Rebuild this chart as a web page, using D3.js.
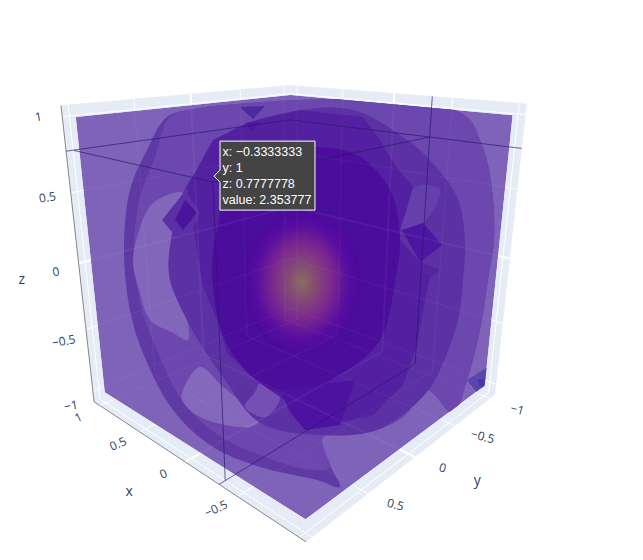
<!DOCTYPE html>
<html><head><meta charset="utf-8">
<script src="https://cdn.jsdelivr.net/npm/d3@7"></script>
<style>html,body{margin:0;padding:0;background:#fff}svg{display:block}</style></head>
<body><svg id="c" width="643" height="560"></svg>
<script>
// ---- data ----
const tickValues = [-1, -0.5, 0, 0.5, 1];
const xTickLabels = [0.5, 0, -0.5, 1];
const yTickLabels = [-1, -0.5, 0, 0.5];
const zTickLabels = [-1, -0.5, 0, 0.5, 1];
const hoverPoint = {x: -0.3333333, y: 1, z: 0.7777778, value: 2.353777};
const hoverLines = ["x: \u22120.3333333", "y: 1", "z: 0.7777778", "value: 2.353777"];

// isosurface silhouettes, in units of the projection plane (u right, v up)
const ringU = [-1.33,-1.0,-0.5,0,1.0,1.5,1.7,1.8,1.88,1.93,1.94,1.88,1.8,1.67,1.53,1.27,1.03,0.7,0.23,0.3,0.4,0.17,-0.4,-0.87,-1.27,-1.57,-1.7,-1.76,-1.7,-1.53];
const ringV = [1.65,1.74,1.79,1.82,1.82,1.74,1.62,1.42,1.17,0.82,0.42,0.02,-0.48,-0.98,-1.31,-1.08,-1.35,-1.5,-1.55,-1.83,-2.05,-1.98,-1.85,-1.65,-1.28,-0.71,-0.28,0.32,0.92,1.32];
const shellU = [-1.3,-1.0,-0.5,0,1.0,1.5,1.7,1.8,1.88,1.93,1.94,1.88,1.8,1.67,1.53,1.27,1.03,0.7,0.23,0.25,0.3,0.1,-0.4,-0.82,-1.17,-1.43,-1.58,-1.66,-1.6,-1.45];
const shellV = [1.65,1.74,1.79,1.82,1.82,1.74,1.62,1.42,1.17,0.82,0.42,0.02,-0.48,-0.98,-1.31,-1.08,-1.35,-1.5,-1.55,-1.7,-1.85,-1.88,-1.73,-1.53,-1.2,-0.68,-0.28,0.3,0.85,1.25];
const crescentU = [-1.17,-1.47,-1.63,-1.67,-1.6,-1.5,-1.27,-1.12,-1.13,-1.3,-1.3,-1.2];
const crescentV = [0.89,0.79,0.45,0.19,-0.11,-0.38,-0.51,-0.58,-0.38,0.02,0.35,0.6];
const lobeLeftU = [-1.17,-1.0,-0.77,-0.4,-0.5,-1.0,-1.18];
const lobeLeftV = [-1.08,-0.85,-1.05,-1.38,-1.45,-1.35,-1.18];
const midU = [-0.67,-1.03,-1.17,-1.3,-1.3,-1.13,-1.0,-0.77,-0.4,0.2,0.7,1.0,1.3,1.43,1.58,1.63,1.65,1.57,1.27,1.03,0.6,0.2];
const midV = [1.52,1.12,0.89,0.35,0.02,-0.38,-0.61,-0.95,-1.41,-1.53,-1.5,-1.35,-1.06,-0.81,-0.38,0.02,0.42,0.85,1.25,1.45,1.7,1.74];
const lobeMidU = [-0.4,-0.2,-0.35,-0.55,-0.45];
const lobeMidV = [-1.01,-1.15,-1.35,-1.25,-1.1];
const darkU = [-1.13,-0.87,-0.53,0,0.63,0.78,0.95,1.13,1.05,0.97,1.2,1.4,1.3,1.25,1.17,1.03,0.73,0.2,-0.2,-0.4,-0.73,-0.83,-0.97,-1.03];
const darkV = [0.95,1.42,1.59,1.72,1.65,1.45,1.17,0.95,0.67,0.45,0.2,0.12,0.05,-0.18,-0.63,-1.03,-1.33,-1.45,-1.15,-1.01,-0.71,-0.38,-0.05,0.32];
const deepU = [-0.38,-0.7,-0.83,-0.88,-0.75,-0.4,0,0.4,0.8,0.95,1.0,0.9,0.6,0.2];
const deepV = [1.22,0.97,0.52,0.12,-0.58,-1.01,-1.13,-0.93,-0.58,0,0.45,0.92,1.25,1.35];
const diamondOuterU = [-1.13,-1.0,-1.15,-1.28,-1.38,-1.18];
const diamondOuterV = [0.9,0.69,0.39,0.5,0.62,0.87];
const diamondInnerU = [-1.15,-1.03,-1.17,-1.25];
const diamondInnerV = [0.82,0.69,0.52,0.62];
const topWedgeU = [-0.6,-0.35,-0.47];
const topWedgeV = [1.75,1.76,1.63];
const topWedge2U = [-0.55,-0.4,-0.48];
const topWedge2V = [1.59,1.6,1.5];
const rightLobeU = [1.15,1.4,1.23,1.02];
const rightLobeV = [0.95,0.92,0.59,0.52];
const rightDiamondU = [1.23,1.42,1.2,1.02];
const rightDiamondV = [0.59,0.37,0.2,0.52];
const rightFoldU = [1.2,1.4,1.3,1.18];
const rightFoldV = [0.2,0.12,0.05,0.12];
const bottomPentU = [-0.2,0.55,0.4,0.05,-0.1];
const bottomPentV = [-1.08,-0.98,-1.43,-1.48,-1.3];
const cornerU = [1.67,1.88,1.87,1.79];
const cornerV = [-0.98,-0.85,-1.06,-1.13];
const cornerInnerU = [1.77,1.85,1.83];
const cornerInnerV = [-0.98,-0.96,-1.08];
const coreOffsets = [0, 0.2, 0.5, 0.8, 1];
const coreColors = ["#86705e", "#855070", "#7c2a8e", "#560ca0", "#4b0a9c"];

const shapes = [
  {name:"ring", u:ringU, v:ringV, color:"#5f3aa5", smooth:true},
  {name:"shell", u:shellU, v:shellV, color:"#6b47ae", smooth:true},
  {name:"crescent", u:crescentU, v:crescentV, color:"#8266b9", smooth:true},
  {name:"lobeLeft", u:lobeLeftU, v:lobeLeftV, color:"#8468bc", smooth:true},
  {name:"mid", u:midU, v:midV, color:"#5c31a4", smooth:true},
  {name:"lobeMid", u:lobeMidU, v:lobeMidV, color:"#7450b2", smooth:true},
  {name:"rightLobe", u:rightLobeU, v:rightLobeV, color:"#6540ac", smooth:true},
  {name:"dark", u:darkU, v:darkV, color:"#5220a0", smooth:false},
  {name:"deep", u:deepU, v:deepV, color:"#4b0d9c", smooth:true},
  {name:"diamondOuter", u:diamondOuterU, v:diamondOuterV, color:"#5a30a4"},
  {name:"diamondInner", u:diamondInnerU, v:diamondInnerV, color:"#4a149c"},
  {name:"topWedge", u:topWedgeU, v:topWedgeV, color:"#4b2a9e"},
  {name:"topWedge2", u:topWedge2U, v:topWedge2V, color:"#4b1a9c"},
  {name:"rightDiamond", u:rightDiamondU, v:rightDiamondV, color:"#4c16a0"},
  {name:"rightFold", u:rightFoldU, v:rightFoldV, color:"#5424a2"},
  {name:"bottomPent", u:bottomPentU, v:bottomPentV, color:"#4c12a0"},
  {name:"corner", u:cornerU, v:cornerV, color:"#5a44ae"},
  {name:"cornerInner", u:cornerInnerU, v:cornerInnerV, color:"#4a35a4"}
];

// ---- camera ----
const cam = {phi: 47*Math.PI/180, el: 19.2*Math.PI/180, D: 4.73, F: 680, cx: 296.5, cy: 262};
const axisExtent = 1.07;
const xMin=-1.05, xMax=1.08, yMin=-1.08, yMax=1.05, zMin=-1.09, zMax=1.07;
const sinEl = Math.sin(cam.el), cosEl = Math.cos(cam.el), sinPhi = Math.sin(cam.phi), cosPhi = Math.cos(cam.phi);
const axisScale = d3.scaleLinear().domain([-1,1]).range([-1,1]);
function project(x,y,z){
  const X=axisScale(x), Y=axisScale(y), Z=axisScale(z);
  const pr = -sinPhi*X - cosPhi*Y;
  const pu = sinEl*cosPhi*X - sinEl*sinPhi*Y + cosEl*Z;
  const pe = -cosEl*cosPhi*X + cosEl*sinPhi*Y + sinEl*Z;
  const k = cam.F/(cam.D-pe);
  return [cam.cx + k*pr, cam.cy - k*pu];
}
const a = axisExtent;
const svg = d3.select("#c");
const defs = svg.append("defs");
const line = d3.line();
const smoothLine = d3.line().curve(d3.curveCatmullRomClosed.alpha(0.5));
const poly = pts => line(pts)+"Z";

// ---- walls ----
const walls = [
  [[xMax,yMax,zMax],[xMax,yMin,zMax],[xMax,yMin,zMin],[xMax,yMax,zMin]],
  [[xMax,yMin,zMax],[xMin,yMin,zMax],[xMin,yMin,zMin],[xMax,yMin,zMin]],
  [[xMax,yMax,zMin],[xMax,yMin,zMin],[xMin,yMin,zMin],[xMin,yMax,zMin]]
];
svg.append("g").selectAll("path").data(walls).join("path")
  .attr("d", w=>poly(w.map(p=>project(...p)))).attr("fill","#e5ecf6").attr("stroke","#e5ecf6").attr("stroke-width",0.5);

const gridSegs = [];
tickValues.forEach(v=>{
  gridSegs.push({p:[[v,yMax,zMin],[v,yMin,zMin]],v},{p:[[xMax,v,zMin],[xMin,v,zMin]],v});
  gridSegs.push({p:[[xMax,v,zMin],[xMax,v,zMax]],v},{p:[[xMax,yMin,v],[xMax,yMax,v]],v});
  gridSegs.push({p:[[v,yMin,zMin],[v,yMin,zMax]],v},{p:[[xMax,yMin,v],[xMin,yMin,v]],v});
});
const drawGrid = (op)=> svg.append("g").selectAll("line").data(gridSegs).join("line")
  .attr("x1",d=>project(...d.p[0])[0]).attr("y1",d=>project(...d.p[0])[1])
  .attr("x2",d=>project(...d.p[1])[0]).attr("y2",d=>project(...d.p[1])[1])
  .attr("stroke","#fff").attr("stroke-opacity",op).attr("stroke-width",d=>d.v===0?2:1);
drawGrid(1);

// ---- volume ----
const hull = [[1,1,1],[1,-1,1],[-1,-1,1],[-1,-1,-1],[-1,1,-1],[1,1,-1]].map(p=>project(...p));
defs.append("clipPath").attr("id","hull").append("path").attr("d",poly(hull));
const uScale = d3.scaleLinear().domain([-3,3]).range([0,600]);
const vScale = d3.scaleLinear().domain([-3,3]).range([582,-18]);
const vol = svg.append("g").attr("clip-path","url(#hull)");
vol.append("path").attr("d",poly(hull)).attr("fill","#7e63b9");
vol.selectAll("path.band").data(shapes).join("path").attr("class","band")
  .attr("d",d=>{
    const pts=d.u.map((u,i)=>[uScale(u),vScale(d.v[i])]);
    return d.smooth ? smoothLine(pts) : poly(pts);
  })
  .attr("fill",d=>d.color);
const grad = defs.append("radialGradient").attr("id","core");
grad.selectAll("stop").data(coreOffsets).join("stop")
  .attr("offset",d=>d).attr("stop-color",(d,i)=>coreColors[i]);
vol.append("ellipse").attr("cx",uScale(0.02)).attr("cy",vScale(0))
  .attr("rx",58).attr("ry",72).attr("fill","url(#core)");
drawGrid(0.05);

// ---- spikes ----
const P = hoverPoint;
const spikeSegs = [
  [[P.x,P.y,P.z],[a,P.y,P.z]],
  [[P.x,P.y,P.z],[P.x,-a,P.z]],
  [[P.x,P.y,P.z],[P.x,P.y,zMin]],
  [[xMax,yMax,P.z],[xMax,yMin,P.z]],
  [[xMax,yMin,P.z],[xMin,yMin,P.z]],
  [[P.x,yMin,zMax],[P.x,yMin,zMin]],
  [[P.x,yMin,zMin],[P.x,yMax,zMin]]
];
svg.append("g").selectAll("line").data(spikeSegs).join("line")
  .attr("x1",d=>project(...d[0])[0]).attr("y1",d=>project(...d[0])[1])
  .attr("x2",d=>project(...d[1])[0]).attr("y2",d=>project(...d[1])[1])
  .attr("stroke","#2a1670").attr("stroke-opacity",0.75).attr("stroke-width",0.9);

// ---- axis lines ----
const axisSegs = [[[xMax,yMax,zMax],[xMax,yMax,zMin]],[[xMax,yMax,zMin],[xMin,yMax,zMin]]];
svg.append("g").selectAll("line").data(axisSegs).join("line")
  .attr("x1",d=>project(...d[0])[0]).attr("y1",d=>project(...d[0])[1])
  .attr("x2",d=>project(...d[1])[0]).attr("y2",d=>project(...d[1])[1])
  .attr("stroke","#333").attr("stroke-width",0.7).attr("stroke-opacity",0.8);

// ---- tick labels ----
const fmt = v => (v<0?"\u2212":"")+Math.abs(v);
const textCol = "#2a3f5f";
const labels = svg.append("g").attr("font-family","'Open Sans',sans-serif").attr("fill",textCol)
  .attr("text-anchor","middle").attr("dominant-baseline","central");
function addTicks(vals, pos, dx, dy, rot, size){
  labels.append("g").selectAll("text").data(vals).join("text")
    .attr("font-size",size).text(fmt)
    .attr("transform",d=>{const p=pos(d);return `translate(${p[0]+dx},${p[1]+dy}) rotate(${rot})`;});
}
addTicks(zTickLabels, v=>project(a,a,v*1.048), -21, 7, -10, 12);
addTicks(xTickLabels, v=>project(v,a,-a), -19, 13, -25, 12);
addTicks(yTickLabels, v=>project(-a,v,-a), 25, 12, 15, 12);
const titles = [{t:"x",p:()=>project(0.45,a,-a),dx:-12,dy:57},{t:"y",p:()=>project(-a,0.15,-a),dx:73,dy:14},{t:"z",p:()=>project(a,a,0),dx:-55,dy:14}];
labels.append("g").selectAll("text").data(titles).join("text").attr("font-size",14).text(d=>d.t)
  .attr("x",d=>d.p()[0]+d.dx).attr("y",d=>d.p()[1]+d.dy);

// ---- hover ----
const hp = project(P.x,P.y,P.z);
const hx = hp[0]+7, hy = hp[1]-6;
const hoverW = 95, hoverH = 69, hoverTop = 35;
const hover = svg.append("g").attr("transform",`translate(${hx},${hy})`);
hover.append("path")
  .attr("d",`M-6,0L0,-6V${-hoverTop}H${hoverW}V${hoverH-hoverTop}H0V6Z`)
  .attr("fill","#444").attr("stroke","#fff").attr("stroke-width",1);
hover.selectAll("text").data(hoverLines).join("text")
  .attr("x",2.5).attr("y",(d,i)=>-hoverTop+15+i*16)
  .attr("font-family","'Liberation Sans',Arial,sans-serif").attr("font-size",12.5).attr("fill","#fff").text(d=>d);
</script></body></html>
